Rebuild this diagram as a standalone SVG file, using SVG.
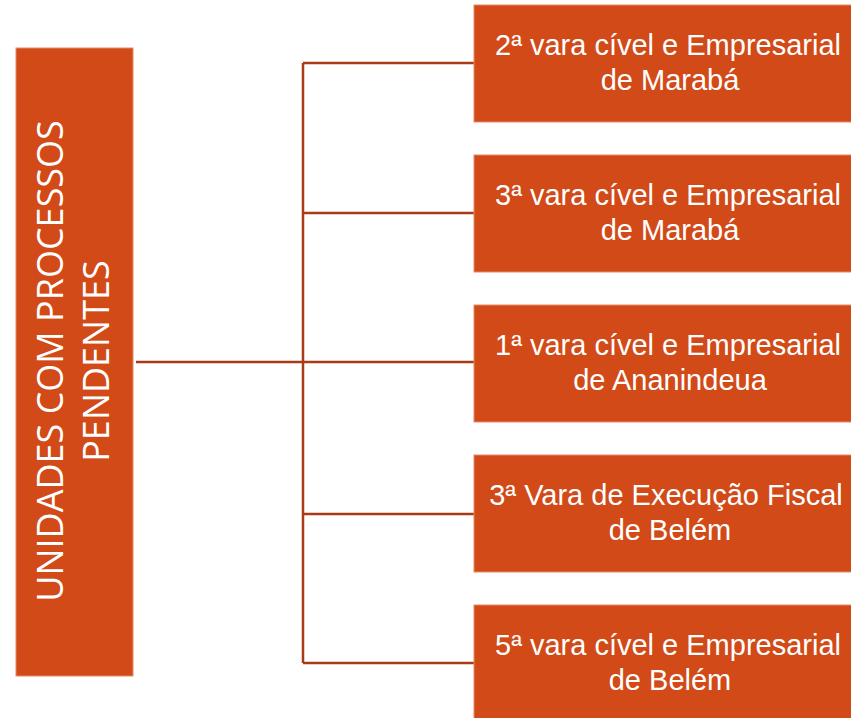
<svg xmlns="http://www.w3.org/2000/svg" width="851" height="718" viewBox="0 0 851 718">
<style>
.box{fill:#D14A18;stroke:#E58A68;stroke-width:1}
.lbl{font-family:"Liberation Sans",Arial,sans-serif;fill:#ffffff;font-size:29px;text-anchor:middle}
.vl{font-family:"Open Sans","Liberation Sans",sans-serif;fill:#ffffff;font-size:36px;text-anchor:middle}
.con{stroke:#A83A15;stroke-width:2.5;fill:none}
</style>
<rect width="851" height="718" fill="#ffffff"/>
<g id="connectors">
<line class="con" x1="136" y1="362" x2="303" y2="362"/>
<line class="con" x1="303" y1="63" x2="303" y2="663"/>
<line class="con" x1="303" y1="63" x2="474" y2="63"/>
<line class="con" x1="303" y1="213" x2="474" y2="213"/>
<line class="con" x1="303" y1="362" x2="474" y2="362"/>
<line class="con" x1="303" y1="514" x2="474" y2="514"/>
<line class="con" x1="303" y1="663" x2="474" y2="663"/>
</g>
<g id="root">
<rect class="box" x="16" y="48" width="117" height="628"/>
<g transform="rotate(-90)">
<text class="vl" x="-361" y="63">UNIDADES COM PROCESSOS</text>
<text class="vl" x="-361" y="109">PENDENTES</text>
</g>
</g>
<g id="n1">
<rect class="box" x="474" y="5" width="392" height="117"/>
<text class="lbl" x="668" y="55">2ª vara cível e Empresarial</text>
<text class="lbl" x="670" y="90">de Marabá</text>
</g>
<g id="n2">
<rect class="box" x="474" y="155" width="392" height="117"/>
<text class="lbl" x="668" y="205">3ª vara cível e Empresarial</text>
<text class="lbl" x="670" y="240">de Marabá</text>
</g>
<g id="n3">
<rect class="box" x="474" y="305" width="392" height="117"/>
<text class="lbl" x="668" y="355">1ª vara cível e Empresarial</text>
<text class="lbl" x="670" y="390">de Ananindeua</text>
</g>
<g id="n4">
<rect class="box" x="474" y="455" width="392" height="117"/>
<text class="lbl" x="666" y="505">3ª Vara de Execução Fiscal</text>
<text class="lbl" x="670" y="540">de Belém</text>
</g>
<g id="n5">
<rect class="box" x="474" y="605" width="392" height="117"/>
<text class="lbl" x="668" y="655">5ª vara cível e Empresarial</text>
<text class="lbl" x="670" y="690">de Belém</text>
</g>
</svg>
